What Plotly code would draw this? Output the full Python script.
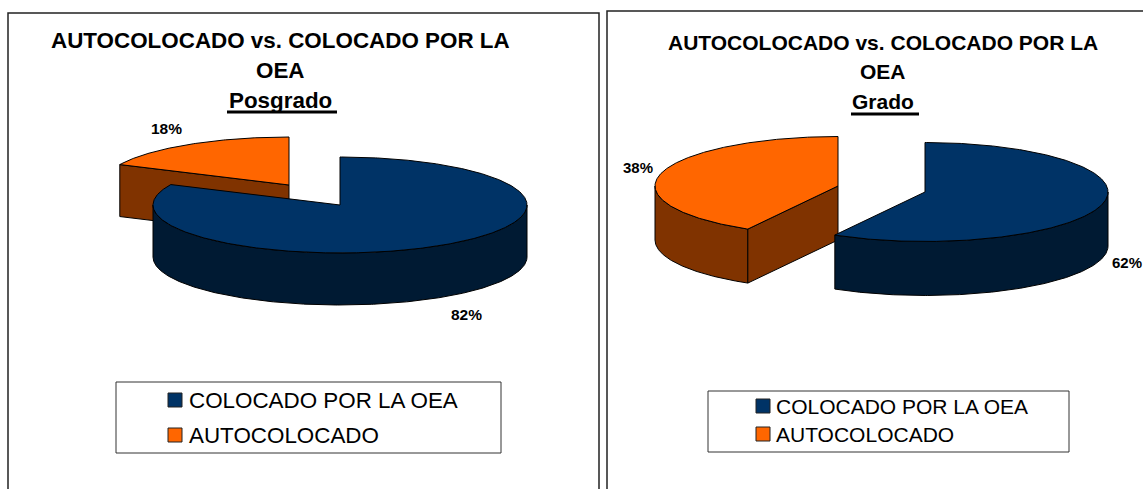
"""Two 3D-look exploded pies: autocolocado vs. colocado por la OEA."""

import numpy as np
import plotly.graph_objects as go

CATEGORIES = ["COLOCADO POR LA OEA", "AUTOCOLOCADO"]
TITLE_LINES = ["AUTOCOLOCADO vs. COLOCADO POR LA", "OEA"]

POSGRADO_NAME = "Posgrado"
POSGRADO_VALUES = [82, 18]
POSGRADO_LABELS = ["82%", "18%"]

GRADO_NAME = "Grado"
# the slices in the picture are drawn at about 58/42, the printed labels say 62/38
GRADO_VALUES = [58.2, 41.8]
GRADO_LABELS = ["62%", "38%"]

TOP_COLORS = ["#003366", "#FF6600"]
WALL_COLORS = ["#001A33", "#803300"]

FONT = "Liberation Sans, Arial, sans-serif"

# geometry of each panel in page pixels
POSGRADO_BOX = dict(
    centers=[(340, 205), (289, 185)], rx=187, ry=48, depth=52,
    frame=(8, 13, 599), title_x=280, title_y=[40, 70, 100], title_size=22.4,
    underline=(227, 337, 112),
    label_pos=[(466, 314), (166, 128)], label_size=15.5,
    legend_box=(116, 382, 501, 453), legend_swatch_x=175, legend_text_x=189,
    legend_y=[400, 435], legend_size=22.4,
)
GRADO_BOX = dict(
    centers=[(925, 192), (838, 186)], rx=183, ry=49.5, depth=54,
    frame=(607, 11, 1150), title_x=883, title_y=[42, 71, 101], title_size=21,
    underline=(851, 919, 114),
    label_pos=[(1127, 262), (638, 167)], label_size=15,
    legend_box=(708, 391, 1069, 452), legend_swatch_x=763, legend_text_x=776,
    legend_y=[406, 434], legend_size=21,
)


def _arc(center, rx, ry, start, end, drop=0.0):
    """Ellipse points, angles in degrees clockwise from 12 o'clock."""
    angles = np.radians(np.linspace(start, end, max(int(abs(end - start)) * 2, 2)))
    xs = center[0] + rx * np.sin(angles)
    ys = center[1] - ry * np.cos(angles) + drop
    return xs, ys


def _add_polygon(fig, xs, ys, color):
    fig.add_trace(go.Scatter(
        x=np.append(xs, xs[0]), y=np.append(ys, ys[0]),
        mode="lines",
        line=dict(color="#000000", width=1),
        fill="toself",
        fillcolor=color,
        hoverinfo="skip",
        showlegend=False,
    ))


def _add_slice(fig, box, idx, start, end):
    """Outer wall, cut face (second slice only) and top of one slice."""
    center, rx, ry, depth = box["centers"][idx], box["rx"], box["ry"], box["depth"]

    # the wall only shows on the front half of the ellipse
    front_start, front_end = max(start, 90), min(end, 270)
    if front_end > front_start:
        xs, ys = _arc(center, rx, ry, front_start, front_end)
        xb, yb = _arc(center, rx, ry, front_start, front_end, depth)
        _add_polygon(fig, np.r_[xs, xb[::-1]], np.r_[ys, yb[::-1]], WALL_COLORS[idx])

    if idx == 1:
        tip_x, tip_y = _arc(center, rx, ry, start, start + 1)
        _add_polygon(
            fig,
            np.array([center[0], tip_x[0], tip_x[0], center[0]]),
            np.array([center[1], tip_y[0], tip_y[0] + depth, center[1] + depth]),
            WALL_COLORS[idx],
        )

    xs, ys = _arc(center, rx, ry, start, end)
    _add_polygon(fig, np.r_[center[0], xs], np.r_[center[1], ys], TOP_COLORS[idx])


def _add_panel(fig, box, name, values, labels):
    left, top, right = box["frame"]
    fig.add_shape(type="rect", x0=left, y0=top, x1=right, y1=500,
                  line=dict(color="#222222", width=1.5), fillcolor="#FFFFFF", layer="below")

    total = sum(values)
    first_end = 360 * values[0] / total
    _add_slice(fig, box, 1, first_end, 360)
    _add_slice(fig, box, 0, 0, first_end)

    for text, y in zip(TITLE_LINES + [name], box["title_y"]):
        fig.add_annotation(x=box["title_x"], y=y, text=f"<b>{text}</b>", showarrow=False,
                           font=dict(family=FONT, size=box["title_size"], color="#000000"))
    x0, x1, uy = box["underline"]
    fig.add_shape(type="line", x0=x0, x1=x1, y0=uy, y1=uy, line=dict(color="#000000", width=3))

    for text, (x, y) in zip(labels, box["label_pos"]):
        fig.add_annotation(x=x, y=y, text=f"<b>{text}</b>", showarrow=False,
                           font=dict(family=FONT, size=box["label_size"], color="#000000"))

    bx0, by0, bx1, by1 = box["legend_box"]
    fig.add_shape(type="rect", x0=bx0, y0=by0, x1=bx1, y1=by1,
                  line=dict(color="#333333", width=1), fillcolor="#FFFFFF", layer="below")
    fig.add_trace(go.Scatter(
        x=[box["legend_swatch_x"]] * len(CATEGORIES),
        y=box["legend_y"],
        mode="markers",
        marker=dict(symbol="square", size=14, color=TOP_COLORS,
                    line=dict(color="#222222", width=1)),
        hoverinfo="skip",
        showlegend=False,
    ))
    for text, y in zip(CATEGORIES, box["legend_y"]):
        fig.add_annotation(x=box["legend_text_x"], y=y, text=text, showarrow=False, xanchor="left",
                           xshift=-2,
                           font=dict(family=FONT, size=box["legend_size"], color="#000000"))


fig = go.Figure()
_add_panel(fig, POSGRADO_BOX, POSGRADO_NAME, POSGRADO_VALUES, POSGRADO_LABELS)
_add_panel(fig, GRADO_BOX, GRADO_NAME, GRADO_VALUES, GRADO_LABELS)

# axes are hidden and run in page pixels so the panels sit where they should
hidden = dict(visible=False, fixedrange=True)
fig.update_layout(
    width=1143,
    height=489,
    margin=dict(l=0, r=0, t=0, b=0),
    paper_bgcolor="#FFFFFF",
    plot_bgcolor="#FFFFFF",
    xaxis=dict(range=[0, 1143], **hidden),
    yaxis=dict(range=[489, 0], **hidden),
    showlegend=False,
)

fig.write_html(
    "out.html",
    config=dict(displayModeBar=False),
    post_script="document.body.style.margin='0';document.body.style.overflow='hidden';",
)
